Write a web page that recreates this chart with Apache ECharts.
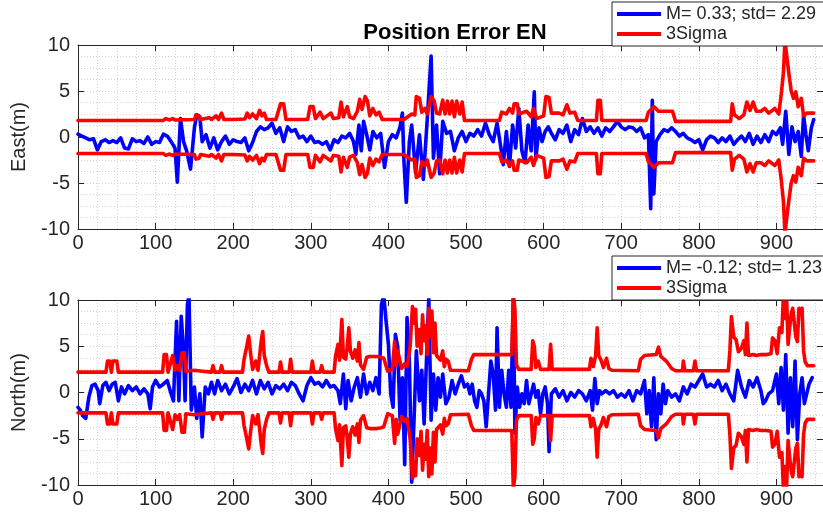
<!DOCTYPE html>
<html>
<head>
<meta charset="utf-8">
<script src="https://cdn.jsdelivr.net/npm/echarts@6/dist/echarts.min.js"></script>
<style>html,body{margin:0;padding:0;background:#fff}#c{width:823px;height:514px}</style>
</head>
<body>
<div id="c"></div>
<script>
// ---- data ----
const xTicks = [0,100,200,300,400,500,600,700,800,900];
const yTicks = [-10,-5,0,5,10];
const titleText = 'Position Error EN';
const eastLegend = 'M= 0.33; std= 2.29';
const northLegend = 'M= -0.12; std= 1.23';
const sigmaLegend = '3Sigma';

const eastT = [
0,5,10,15,20,25,30,35,40,45,
50,55,60,65,70,75,80,85,90,95,
100,105,110,115,120,125,128,132,136,140,
145,150,153,157,160,165,170,175,180,185,
190,195,200,205,210,215,220,225,230,235,
240,245,250,255,260,265,270,275,280,285,
290,295,300,305,310,315,320,325,330,335,
340,345,350,355,358,362,365,368,372,376,
380,385,390,395,400,405,410,415,418,420,
423,427,430,435,440,445,450,455,458,462,
466,470,475,480,485,490,495,500,505,510,
515,520,525,530,535,540,545,548,552,556,
560,564,568,572,576,580,584,588,590,594,
598,602,606,610,615,620,625,630,635,640,
645,650,655,660,665,670,675,680,685,690,
695,700,705,710,715,720,725,730,735,738,
740,742,745,750,755,760,765,770,775,780,
785,790,795,800,805,810,815,820,825,830,
835,840,845,850,855,860,865,870,875,880,
885,890,895,900,905,908,912,916,920,924,
928,932,935,938,941,945,948];
const eastErr = [
0.3,0.1,-0.1,-0.3,-0.2,-1.4,-0.5,-0.3,-0.6,-0.4,
-0.6,-0.1,-1.2,-1.3,-0.2,-0.5,-0.4,-0.7,0,-0.8,
-0.5,-0.6,0.3,0.1,-0.5,-1.2,-4.9,2.0,-0.5,-1.5,
-3.5,1.0,2.4,2.2,-0.5,0.25,-1.2,-0.1,-1.4,-0.5,
0.1,-0.8,-0.3,-0.5,-0.6,-0.1,-1.5,-0.6,0.6,1.1,
0.8,1.0,1.5,0.4,1.0,-0.5,1.1,0.6,0.8,-0.1,
0.1,-0.5,0.1,-0.6,-0.5,-0.8,-0.5,-1.4,-0.3,-0.6,
0.1,-0.1,0.4,-0.5,-1.9,1.3,-1.5,1.7,0.25,-1.4,
0.6,-0.1,0.4,-3.3,-0.5,0.25,-0.1,1.1,2.6,-2.6,
-7.1,-0.5,1.3,-3.9,0.25,-4.6,1.9,8.8,-2.3,1.3,
-4.0,1.7,0.4,0.6,-1.5,-0.1,0.6,-0.5,0.4,0.1,
0.8,0.1,1.5,0.25,-0.5,1.5,-1.2,-3.0,0.6,-3.2,
1.3,-1.2,3.1,-1.5,-2.8,1.3,-1.5,4.9,-2.4,1.0,
-0.5,0.6,1.1,0.4,-0.3,0.8,0.4,1.3,-0.5,0.8,
0.25,2.0,0.6,1.1,0.4,1.0,0.1,1.0,0.6,1.1,
1.7,1.1,0.8,1.1,1.0,0.6,1.0,-0.1,0.25,-7.8,
4.0,-6.2,-0.5,0.25,0.8,0.6,1.0,0.6,0.1,0.4,
-0.1,-0.3,-0.6,-0.3,-1.4,-0.3,0.1,-0.1,-0.6,-0.1,
-0.5,0.1,-0.8,-0.3,0.1,-0.5,0.4,-0.8,0.1,-0.6,
0.25,-0.5,0.6,0.25,1.0,-0.8,2.8,-1.9,1.1,-0.5,
0.6,-2.1,2.4,0.25,-1.5,1.0,1.9];

const eastSigT = [
0,110,113,118,122,125,150,152,156,158,
169,172,178,181,185,188,200,215,218,221,
225,230,234,237,240,243,255,261,265,268,
296,299,303,306,312,316,326,329,336,339,
342,347,350,355,360,363,366,370,373,376,
380,384,388,392,420,425,430,434,436,440,
443,447,450,455,459,462,466,470,473,476,
479,482,485,488,492,495,498,543,546,552,
556,560,562,566,568,578,584,587,591,600,
603,607,610,620,625,630,634,640,644,668,
670,673,675,732,735,742,748,766,770,841,
843,846,852,858,862,866,870,874,880,885,
890,898,903,906,909,911,913,916,919,922,
925,928,932,935,939,948];
const eastSigma = [
1.8,1.8,2.0,1.85,2.0,1.85,1.9,2.4,2.3,1.9,
2.1,1.9,2.3,1.9,2.6,1.9,1.9,1.95,2.6,2.1,
2.5,2.0,2.9,2.3,2.6,1.9,1.9,3.6,3.6,1.9,
1.9,3.3,3.3,2.0,2.7,2.0,2.6,2.0,2.1,3.8,
2.2,3.3,2.2,2.0,2.8,4.1,3.0,4.4,3.9,2.3,
3.1,2.4,2.7,1.9,1.9,2.2,2.5,2.4,4.4,4.2,
2.7,3.1,2.5,4.4,3.9,2.6,2.5,4.0,2.5,3.9,
2.5,3.9,2.2,3.9,2.5,3.8,1.8,1.8,2.7,2.5,
3.1,2.6,3.6,3.6,2.5,2.8,2.2,3.1,2.0,2.3,
4.4,4.3,2.6,2.6,2.4,3.5,2.6,2.7,1.8,1.8,
4.0,4.0,1.8,1.8,2.7,3.3,2.8,2.8,1.7,1.7,
3.6,2.4,2.0,2.4,3.8,2.9,3.8,2.8,2.8,3.1,
2.6,3.1,2.5,4.5,7.0,10.5,9.0,6.9,5.0,4.2,
4.9,3.3,4.2,2.3,2.6,2.6];

const northT = [
0,3,6,10,14,18,22,26,28,32,
36,40,44,48,52,56,60,65,70,75,
80,85,90,93,96,100,105,110,115,120,
123,127,130,133,136,138,141,143,146,150,
153,157,160,164,168,172,176,180,185,190,
195,200,205,210,215,220,225,230,235,240,
245,250,255,260,265,270,275,280,285,290,
295,300,305,310,315,320,325,330,335,338,
342,345,348,352,356,360,364,368,372,376,
380,384,388,391,394,397,400,403,406,409,
412,415,418,421,424,427,430,433,436,440,
443,446,449,452,455,458,461,464,467,470,
474,478,482,486,490,494,498,502,505,508,
511,514,517,520,523,526,529,532,535,538,
540,543,546,549,552,555,558,561,563,566,
569,572,575,578,581,584,587,590,593,596,
599,602,605,607,610,615,620,625,630,635,
640,645,650,655,660,663,666,669,672,675,
680,685,690,695,700,705,710,715,720,725,
730,733,736,739,742,745,748,751,754,757,
760,765,770,775,780,785,790,795,800,805,
810,815,820,825,830,835,840,845,850,855,
860,865,870,875,880,883,886,890,895,900,
903,906,909,912,915,918,921,924,927,930,
933,936,939,942,946];
const northErr = [
-1.6,-1.9,-2.5,-2.8,-0.5,0.75,0.9,0.2,-1.2,0.75,
1.1,0.2,0.9,1.1,-0.9,0.6,-0.15,0.75,0.2,0.6,
-0.15,0.4,-0.15,-1.75,0.6,1.3,0.6,0.9,1.3,-0.15,
-0.9,7.7,-0.9,8.25,4.5,-0.9,9.5,10.5,-1.9,0.6,
-2.8,-0.15,-4.8,0.6,-0.15,1.1,-0.15,1.3,0.2,0.9,
-0.15,0.6,1.5,0,0.9,0.2,1.3,-0.15,1.3,0.4,
1.1,-0.15,0.75,0.4,0.9,0.2,1.1,0.75,-0.15,-0.9,
0.75,1.6,0.9,1.1,0.6,1.3,0.6,0.75,0.2,-1.2,
2.0,-1.75,1.3,-0.9,0.6,1.6,-0.5,2.0,-0.15,1.1,
0.2,1.6,-0.15,9.5,10.5,7.7,5.2,-0.15,-1.6,6.3,
4.9,-3.0,1.6,-7.8,8.1,3.4,-9.7,-3.0,4.5,-0.9,
2.4,-3.4,3.4,10.2,-3.0,2.0,-1.9,1.6,-0.5,2.0,
-1.2,-0.5,1.3,-0.15,0.9,1.8,0.6,0.9,-0.15,0.9,
-0.9,-1.6,0.2,-0.15,-0.9,-3.7,-0.15,3.4,2.0,-1.9,
7.0,-1.6,2.4,-0.15,-1.6,2.4,-1.6,10.5,-4.4,0.6,
-1.6,-0.15,-1.2,1.3,-1.2,-0.15,0.9,-0.5,0.2,-2.3,
-0.15,0.6,-1.2,-6.4,-0.15,0.4,-0.5,0.2,-0.9,0,
-0.5,0.2,-0.15,-0.9,0.2,-1.9,1.5,-1.2,0.2,-0.15,
0.2,-0.15,0.2,-0.5,-0.15,-0.5,0.2,-0.9,0.2,-0.15,
1.3,-2.3,0.2,-3.7,1.6,-5.1,-0.15,-2.3,0.9,-1.2,
0.2,-0.5,-0.15,-0.9,0.6,-0.15,0.9,0.6,1.3,2.0,
0.6,0.9,0.6,1.3,0.2,0.9,-0.15,-0.9,2.4,0.6,
-0.5,1.3,0.6,1.6,0.2,-1.2,-0.9,-0.15,0.2,2.0,
-1.2,2.7,-1.9,4.1,-4.4,1.6,-3.7,3.4,-5.1,-0.15,
1.6,-1.2,-0.15,0.9,1.6];

const northSigT = [
0,36,38,41,43,45,50,52,109,111,
114,116,122,125,128,131,134,137,139,150,
160,172,174,176,183,185,187,212,214,217,
220,222,225,229,232,236,238,240,243,246,
259,261,263,272,274,276,300,302,304,312,
314,316,330,332,335,337,340,342,345,347,
349,351,354,357,360,362,364,368,372,376,
385,391,394,396,399,405,408,410,412,414,
417,421,424,428,431,433,435,437,440,442,
444,446,448,450,452,454,456,458,460,462,
464,467,470,472,474,477,480,503,507,510,
559,561,563,565,568,584,586,588,590,593,
596,607,609,611,659,661,664,667,669,671,
674,677,681,684,688,722,725,730,745,748,
751,758,765,770,779,780,782,793,795,797,
838,840,842,845,848,851,855,858,860,862,
864,870,874,880,887,893,895,898,901,904,
907,909,911,913,915,917,919,921,923,925,
927,929,931,933,935,937,940,948];
const northSigma = [
2.2,2.2,3.4,3.4,2.2,3.4,3.4,2.2,2.2,4.1,
4.1,2.2,4.0,2.4,2.9,2.4,4.3,4.3,2.3,2.4,
2.3,2.2,2.9,2.2,2.2,2.9,2.2,2.2,3.6,4.8,
6.1,4.5,2.5,3.4,2.4,5.5,6.6,4.0,2.9,2.2,
2.2,3.3,2.2,2.2,3.6,2.2,2.2,3.4,2.2,2.2,
2.9,2.2,2.2,4.0,5.2,3.5,7.9,3.8,3.6,5.0,
7.0,4.5,3.7,4.6,3.4,5.4,3.0,2.5,3.8,3.9,
3.9,3.8,3.7,3.6,2.3,2.5,5.5,2.9,4.5,4.5,
2.6,3.1,2.8,5.0,9.3,7.5,9.0,5.0,6.8,4.2,
8.4,5.6,7.2,4.1,9.1,6.0,8.8,4.3,7.5,4.0,
4.2,3.5,4.5,2.8,3.6,3.4,2.4,2.35,3.6,4.1,
4.1,10.5,9.0,3.0,2.5,2.5,5.6,5.0,2.7,3.4,
2.5,2.5,5.2,2.5,2.5,3.7,2.8,4.0,7.0,4.0,
3.5,2.7,3.7,2.6,2.4,2.35,3.6,4.0,4.1,4.9,
3.9,3.4,2.6,2.35,2.35,3.4,2.35,2.35,3.4,2.35,
2.35,4.5,8.2,6.0,5.7,4.4,4.8,5.6,4.1,7.5,
4.0,4.1,4.0,4.1,4.1,4.2,5.9,5.6,4.2,7.0,
6.5,10.5,8.0,10.5,5.2,7.0,8.5,9.1,9.0,6.0,
5.5,9.1,8.5,9.1,4.5,3.3,2.9,2.9];

// ---- build ----
const zip = (xs, ys, sign) => xs.map((x, i) => [x, (sign || 1) * ys[i]]);
const FONT = '"Liberation Sans", Arial, Helvetica, sans-serif';
const AX = '#262626';
const XMIN = 0, XMAX = 960;
const TICK_FS = 20, LEG_FS = 18, TITLE_FS = 22;

function grids() {
  return [
    { left: 78, top: 45, width: 745, height: 184, containLabel: false },
    { left: 78, top: 300, width: 745, height: 185, containLabel: false }
  ];
}
function mainX(g) {
  return {
    type: 'value', gridIndex: g, min: XMIN, max: XMAX, interval: 100, position: 'bottom',
    axisLine: { show: true, onZero: false, lineStyle: { color: AX, width: 1 } },
    axisTick: { show: true, inside: true, length: 6, lineStyle: { color: AX } },
    axisLabel: { color: AX, fontSize: TICK_FS, fontFamily: FONT, margin: 4, showMaxLabel: false,
      formatter: v => (xTicks.indexOf(v) >= 0 ? String(v) : '') },
    splitLine: { show: false }
  };
}
function topX(g) {
  return {
    type: 'value', gridIndex: g, min: XMIN, max: XMAX, interval: 100, position: 'top',
    axisLine: { show: true, onZero: false, lineStyle: { color: AX, width: 1 } },
    axisTick: { show: true, inside: true, length: 6, lineStyle: { color: AX } },
    axisLabel: { show: false }, splitLine: { show: false }
  };
}
function gridX(g) {
  return {
    type: 'value', gridIndex: g, min: XMIN, max: XMAX, interval: 25, position: 'bottom',
    axisLine: { show: false }, axisTick: { show: false }, axisLabel: { show: false },
    splitLine: { show: true, lineStyle: { color: '#d4d4d4', type: [1, 2], width: 1 } }
  };
}
function mainY(g, name) {
  return {
    type: 'value', gridIndex: g, min: yTicks[0], max: yTicks[yTicks.length - 1], interval: 5, position: 'left',
    name: name, nameLocation: 'middle', nameGap: 49, nameRotate: 90,
    nameTextStyle: { color: AX, fontSize: TICK_FS, fontFamily: FONT },
    axisLine: { show: true, onZero: false, lineStyle: { color: AX, width: 1 } },
    axisTick: { show: true, inside: true, length: 6, lineStyle: { color: AX } },
    axisLabel: { color: AX, fontSize: TICK_FS, fontFamily: FONT, margin: 8 },
    splitLine: { show: true, lineStyle: { color: '#d4d4d4', type: [1, 2], width: 1 } },
    minorTick: { show: false, splitNumber: 4 },
    minorSplitLine: { show: true, lineStyle: { color: '#d4d4d4', type: [1, 2], width: 1 } }
  };
}
function rightY(g) {
  return {
    type: 'value', gridIndex: g, min: yTicks[0], max: yTicks[yTicks.length - 1], interval: 5, position: 'right',
    axisLine: { show: true, onZero: false, lineStyle: { color: AX, width: 1 } },
    axisTick: { show: true, inside: true, length: 6, lineStyle: { color: AX } },
    axisLabel: { show: false }, splitLine: { show: false }
  };
}
function line(name, data, color, xi, yi) {
  return {
    type: 'line', name: name, data: data, xAxisIndex: xi, yAxisIndex: yi,
    showSymbol: false, symbol: 'none', clip: true, animation: false,
    lineStyle: { color: color, width: 3.6, join: 'round', cap: 'round' },
    itemStyle: { color: color }
  };
}
function legend(top, names) {
  return {
    data: names, orient: 'vertical', left: 612, top: top,
    backgroundColor: '#ffffff', borderColor: AX, borderWidth: 1, borderRadius: 0,
    padding: [3, 70, 3, 5], itemGap: 2, itemWidth: 44, itemHeight: 4, icon: 'rect',
    selectedMode: false,
    textStyle: { color: AX, fontSize: LEG_FS, fontFamily: FONT, lineHeight: 18, padding: [0, 0, 0, 0] }
  };
}

const chart = echarts.init(document.getElementById('c'), null, { renderer: 'canvas' });
chart.setOption({
  backgroundColor: '#ffffff',
  animation: false,
  title: {
    text: titleText, left: 450, top: 17, textAlign: 'center',
    textStyle: { fontSize: TITLE_FS, fontWeight: 'bold', color: '#000', fontFamily: FONT }
  },
  grid: grids(),
  xAxis: [mainX(0), topX(0), gridX(0), mainX(1), topX(1), gridX(1)],
  yAxis: [mainY(0, 'East(m)'), rightY(0), mainY(1, 'North(m)'), rightY(1)],
  legend: [legend(2, [eastLegend, sigmaLegend]), legend(256, [northLegend, sigmaLegend])],
  series: [
    line(eastLegend, zip(eastT, eastErr), '#0000ff', 0, 0),
    line(sigmaLegend, zip(eastSigT, eastSigma), '#ff0000', 0, 0),
    line(sigmaLegend, zip(eastSigT, eastSigma, -1), '#ff0000', 0, 0),
    line(northLegend, zip(northT, northErr), '#0000ff', 3, 2),
    line(sigmaLegend, zip(northSigT, northSigma), '#ff0000', 3, 2),
    line(sigmaLegend, zip(northSigT, northSigma, -1), '#ff0000', 3, 2)
  ]
});
</script>
</body>
</html>
